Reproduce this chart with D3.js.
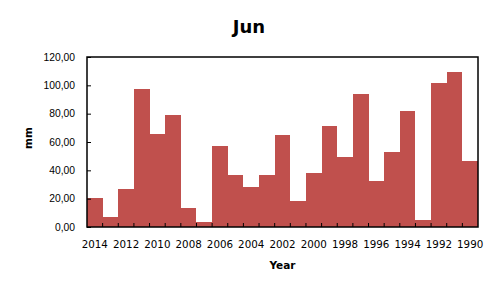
<!DOCTYPE html>
<html>
<head>
<meta charset="utf-8">
<script src="https://cdn.jsdelivr.net/npm/d3@7"></script>
<style>
  body { margin: 0; background: #fff; }
  svg { display: block; font-family: "DejaVu Sans", sans-serif; }
</style>
</head>
<body>
<svg width="498" height="290"></svg>
<script>
// data
var years = [2014, 2013, 2012, 2011, 2010, 2009, 2008, 2007, 2006, 2005, 2004, 2003, 2002,
  2001, 2000, 1999, 1998, 1997, 1996, 1995, 1994, 1993, 1992, 1991, 1990];
var rainfall = [20.6, 7.2, 27.0, 97.6, 65.8, 79.2, 13.6, 3.7, 57.4, 36.9, 28.4, 36.9, 65.1,
  18.6, 38.3, 71.5, 49.6, 94.1, 32.7, 53.1, 82.1, 5.1, 101.9, 109.6, 46.8];
var yTicks = [0, 20, 40, 60, 80, 100, 120];
var xLabels = [2014, 2012, 2010, 2008, 2006, 2004, 2002, 2000, 1998, 1996, 1994, 1992, 1990];

var svg = d3.select("svg"),
  margin = { top: 57, right: 20, bottom: 63, left: 87 },
  width = +svg.attr("width") - margin.left - margin.right,
  height = +svg.attr("height") - margin.top - margin.bottom;

var x = d3.scaleBand().domain(years).range([0, width]).padding(0),
  y = d3.scaleLinear().domain([0, 120]).range([height, 0]);

var fmt = function(v) { return d3.format(".2f")(v).replace(".", ","); };

var g = svg.append("g")
  .attr("transform", "translate(" + margin.left + "," + margin.top + ")");

g.selectAll(".bar")
  .data(years)
  .enter()
  .append("rect")
  .attr("class", "bar")
  .attr("x", function(d) { return x(d); })
  .attr("y", function(d, i) { return y(rainfall[i]); })
  .attr("width", x.bandwidth())
  .attr("height", function(d, i) { return height - y(rainfall[i]); })
  .attr("fill", "#c0504d")
  .attr("shape-rendering", "crispEdges");

// frame
g.append("rect")
  .attr("width", width)
  .attr("height", height)
  .attr("fill", "none")
  .attr("stroke", "#000")
  .attr("stroke-width", 1.5);

// y axis, ticks pointing inward
var yAxis = g.append("g")
  .call(d3.axisLeft(y).tickValues(yTicks).tickFormat(fmt).tickSizeInner(-4).tickSizeOuter(0).tickPadding(12));
yAxis.select(".domain").remove();
yAxis.selectAll("line").attr("stroke", "#000");
yAxis.selectAll("text").style("font-size", "10.3px").attr("fill", "#000");

// x axis: tick marks at band edges, labels every second year
var edges = years.map(function(d) { return x(d); }).slice(1);
g.append("g").selectAll("line")
  .data(edges)
  .enter().append("line")
  .attr("x1", function(d) { return d; })
  .attr("x2", function(d) { return d; })
  .attr("y1", height)
  .attr("y2", height - 4)
  .attr("stroke", "#000");

g.append("g").selectAll("text")
  .data(xLabels)
  .enter().append("text")
  .attr("x", function(d) { return x(d) + x.bandwidth() / 2; })
  .attr("y", height + 21)
  .attr("text-anchor", "middle")
  .style("font-size", "10.3px")
  .text(function(d) { return d; });

svg.append("text")
  .attr("x", 249)
  .attr("y", 33)
  .attr("text-anchor", "middle")
  .style("font-size", "18px")
  .style("font-weight", "bold")
  .text("Jun");

svg.append("text")
  .attr("x", margin.left + width / 2)
  .attr("y", 269)
  .attr("text-anchor", "middle")
  .style("font-size", "10.5px")
  .style("font-weight", "bold")
  .text("Year");

svg.append("text")
  .attr("transform", "translate(32,138) rotate(-90)")
  .attr("text-anchor", "middle")
  .style("font-size", "10.5px")
  .style("font-weight", "bold")
  .text("mm");
</script>
</body>
</html>
